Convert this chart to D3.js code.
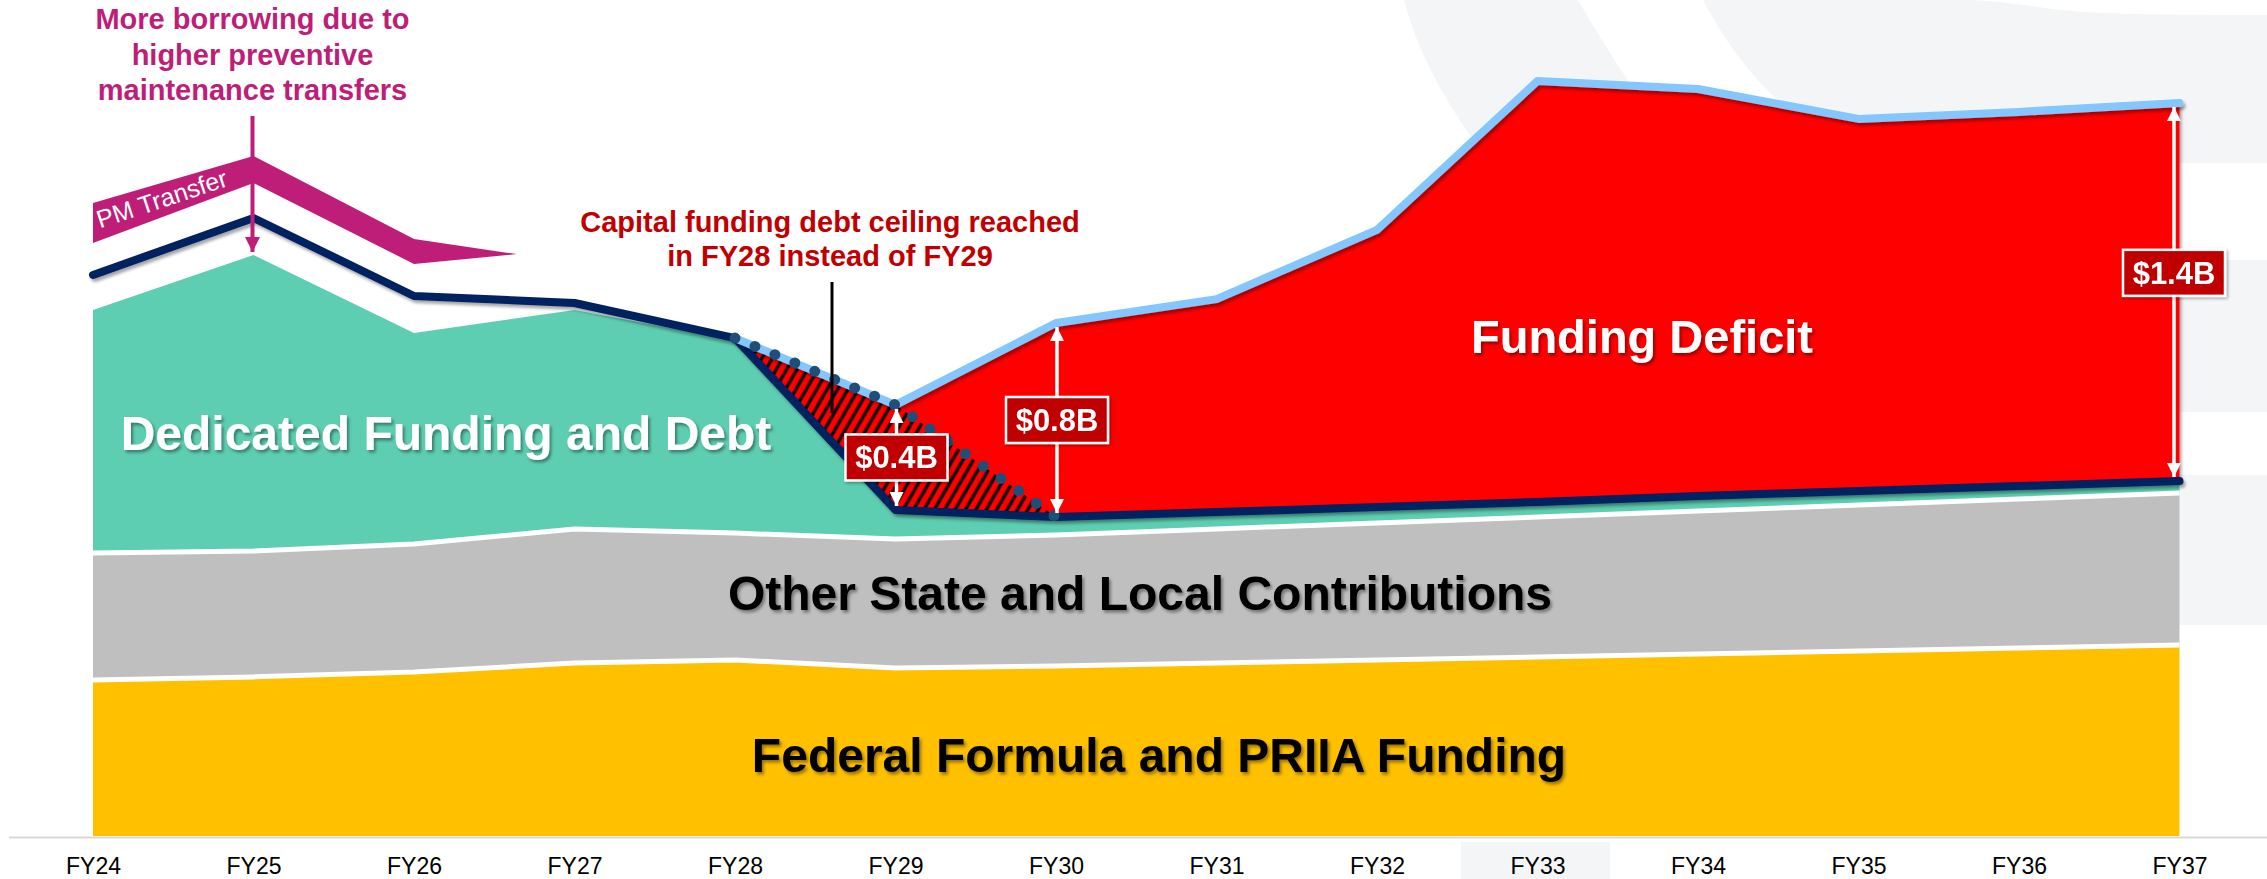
<!DOCTYPE html>
<html>
<head>
<meta charset="utf-8">
<script src="https://cdn.jsdelivr.net/npm/d3@7"></script>
<style>
  html, body { margin: 0; padding: 0; background: #fff; }
  svg { display: block; font-family: "Liberation Sans", Arial, sans-serif; }
</style>
</head>
<body>
<script>
'use strict';

// fiscal years along the bottom
const years = ["FY24", "FY25", "FY26", "FY27", "FY28", "FY29", "FY30",
               "FY31", "FY32", "FY33", "FY34", "FY35", "FY36", "FY37"];

// stacked funding sources, $B
const federal = [0.600, 0.612, 0.631, 0.665, 0.677, 0.646, 0.654,
                 0.665, 0.677, 0.688, 0.700, 0.712, 0.723, 0.735];
const otherStateLocal = [0.488, 0.484, 0.492, 0.516, 0.488, 0.496, 0.504,
                         0.516, 0.527, 0.539, 0.550, 0.561, 0.573, 0.584];
const dedicated = [0.935, 1.139, 0.812, 0.842, 0.743, 0.100, 0.057,
                   0.054, 0.050, 0.046, 0.046, 0.042, 0.039, 0.035];

// total funding incl. debt (navy line), $B
const totalFunding = [2.158, 2.377, 2.077, 2.050, 1.915, 1.254, 1.227,
                      1.246, 1.265, 1.285, 1.308, 1.327, 1.346, 1.365];

// capital need (light blue line), $B
const needYears = ["FY28", "FY29", "FY30", "FY31", "FY32", "FY33", "FY34", "FY35", "FY36", "FY37"];
const totalNeed = [1.915, 1.658, 1.973, 2.065, 2.331, 2.904, 2.873, 2.758, 2.785, 2.819];

// previous plan, debt ceiling reached in FY29 (dotted line)
const priorYears = ["FY28", "FY29", "FY30"];
const priorPlan = [1.915, 1.658, 1.227];

// PM transfer band, positions given as year index
const pmIndex = [0, 1, 2, 2.64];
const pmTop = [2.435, 2.615, 2.296, 2.238];
const pmBase = [2.281, 2.512, 2.200, 2.238];

// deficit call-outs
const calloutYears = ["FY29", "FY30", "FY37"];
const calloutText = ["$0.4B", "$0.8B", "$1.4B"];

const colors = {
  federal: "#FFC000",
  other: "#BFBFBF",
  dedicated: "#5DCEB1",
  deficit: "#FF0000",
  navy: "#002060",
  need: "#84C7FE",
  dots: "#1F4E79",
  pm: "#BE1E77",
  darkRed: "#C00000",
  bg: "#F4F5F7"
};

const W = 2267, H = 879;

window.onload = function() {
  let svg = d3.select("body").append("svg")
    .attr("width", W)
    .attr("height", H);

  let defs = svg.append("defs");
  makeDefs(defs);

  // light background shapes of the slide
  drawBackground(svg);

  // scales
  let x = d3.scalePoint().domain(years).range([93, 2179.5]);
  let xi = d3.scaleLinear().domain([0, years.length - 1]).range([93, 2179.5]);
  let y = d3.scaleLinear().domain([0, 3]).range([836, 56]);

  // axis line + year labels
  svg.append("line")
    .attr("x1", 9).attr("x2", W)
    .attr("y1", 837.5).attr("y2", 837.5)
    .attr("stroke", "#D9D9D9")
    .attr("stroke-width", 2);

  let xAxis = d3.axisBottom(x).tickSize(0).tickPadding(0);
  let gx = svg.append("g")
    .attr("transform", "translate(0, 857)")
    .call(xAxis);
  gx.select(".domain").remove();
  gx.selectAll("text")
    .attr("dy", 0)
    .attr("y", 17)
    .style("font-size", "23px")
    .style("font-family", "'Liberation Sans', Arial, sans-serif")
    .attr("fill", "#000");

  // stacked areas
  let rows = years.map((yr, i) => ({
    year: yr,
    federal: federal[i],
    other: otherStateLocal[i],
    dedicated: dedicated[i]
  }));
  let series = d3.stack().keys(["federal", "other", "dedicated"])(rows);

  let area = d3.area()
    .x((d) => x(d.data.year))
    .y0((d) => y(d[0]))
    .y1((d) => y(d[1]));

  svg.selectAll(".band")
    .data(series)
    .enter()
    .append("path")
      .attr("class", "band")
      .attr("d", area)
      .attr("fill", (s) => colors[s.key]);

  // white separators on top of federal and other bands
  let topLine = d3.line()
    .x((d) => x(d.data.year))
    .y((d) => y(d[1]));
  svg.selectAll(".sep")
    .data(series.slice(0, 2))
    .enter()
    .append("path")
      .attr("class", "sep")
      .attr("d", topLine)
      .attr("fill", "none")
      .attr("stroke", "#fff")
      .attr("stroke-width", 5);

  // funding deficit area
  let needRows = needYears.map((yr, i) => ({
    year: yr,
    top: totalNeed[i],
    base: totalFunding[years.indexOf(yr)]
  }));
  let gapArea = d3.area()
    .x((d) => x(d.year))
    .y0((d) => y(d.base))
    .y1((d) => y(d.top));

  svg.append("path")
    .datum(needRows)
    .attr("d", gapArea)
    .attr("fill", colors.deficit)
    .attr("filter", "url(#shadow)");

  // hatched area, earlier debt ceiling
  let priorRows = priorYears.map((yr, i) => ({
    year: yr,
    top: priorPlan[i],
    base: totalFunding[years.indexOf(yr)]
  }));
  svg.append("path")
    .datum(priorRows)
    .attr("d", gapArea)
    .attr("fill", "url(#hatch)");

  // navy line of total funding
  let fundLine = d3.line()
    .x((d, i) => x(years[i]))
    .y((d) => y(d));
  svg.append("path")
    .datum(totalFunding)
    .attr("d", fundLine)
    .attr("fill", "none")
    .attr("stroke", colors.navy)
    .attr("stroke-width", 8)
    .attr("stroke-linecap", "round")
    .attr("stroke-linejoin", "round")
    .attr("filter", "url(#shadow)");

  // light blue line of need
  let needLine = d3.line()
    .x((d) => x(d.year))
    .y((d) => y(d.top));
  svg.append("path")
    .datum(needRows)
    .attr("d", needLine)
    .attr("fill", "none")
    .attr("stroke", colors.need)
    .attr("stroke-width", 8)
    .attr("stroke-linecap", "round")
    .attr("stroke-linejoin", "round")
    .attr("filter", "url(#shadow)");

  // dotted line of prior plan
  svg.append("path")
    .datum(priorRows)
    .attr("d", needLine)
    .attr("fill", "none")
    .attr("stroke", colors.dots)
    .attr("stroke-width", 11)
    .attr("stroke-linecap", "round")
    .attr("stroke-dasharray", "0 21.6");

  // PM transfer band
  let pmArea = d3.area()
    .x((d, i) => xi(pmIndex[i]))
    .y0((d, i) => y(pmBase[i]))
    .y1((d, i) => y(pmTop[i]));
  svg.append("path")
    .datum(pmIndex)
    .attr("d", pmArea)
    .attr("fill", colors.pm);

  let mid0 = y((pmTop[0] + pmBase[0]) / 2);
  let mid1 = y((pmTop[1] + pmBase[1]) / 2);
  let pmAngle = Math.atan2(mid1 - mid0, xi(1) - xi(0)) * 180 / Math.PI;
  let pmX = xi(0) + 7;
  let pmY = mid0 + (mid1 - mid0) * (7 / (xi(1) - xi(0))) + 8;
  svg.append("text")
    .attr("transform", "translate(" + pmX + "," + pmY + ")rotate(" + pmAngle + ")")
    .attr("fill", "#fff")
    .style("font-size", "25px")
    .text("PM Transfer");

  // deficit call-outs with double arrows
  calloutYears.forEach(function(yr, i) {
    let k = years.indexOf(yr);
    let last = (i == calloutYears.length - 1);
    let ax = x(yr) + (last ? -5.5 : 1);
    let yTop = y(totalNeed[needYears.indexOf(yr)]) + 4;
    let yBot = y(totalFunding[k]) - 4;

    svg.append("line")
      .attr("x1", ax).attr("x2", ax)
      .attr("y1", yTop).attr("y2", yBot)
      .attr("stroke", "#fff")
      .attr("stroke-width", 3.5)
      .attr("marker-start", "url(#whiteHead)")
      .attr("marker-end", "url(#whiteHead)");

    let frac = last ? 0.448 : 0.5;
    let cy = yTop + (yBot - yTop) * frac;
    let g = svg.append("g")
      .attr("transform", "translate(" + ax + "," + cy + ")")
      .attr("filter", "url(#boxShadow)");
    g.append("rect")
      .attr("x", -51).attr("y", -23)
      .attr("width", 102).attr("height", 46)
      .attr("fill", colors.darkRed)
      .attr("stroke", "#fff")
      .attr("stroke-width", 2.5);
    g.append("text")
      .attr("text-anchor", "middle")
      .attr("y", 11)
      .attr("fill", "#fff")
      .style("font-size", "31px")
      .style("font-weight", "bold")
      .text(calloutText[i]);
  });

  makeLabels(svg, x, y);
};

// patterns, markers and shadows
function makeDefs(defs) {
  let hatch = defs.append("pattern")
    .attr("id", "hatch")
    .attr("width", 9).attr("height", 9)
    .attr("patternUnits", "userSpaceOnUse")
    .attr("patternTransform", "rotate(30)");
  hatch.append("rect")
    .attr("width", 9).attr("height", 9)
    .attr("fill", colors.deficit);
  hatch.append("line")
    .attr("x1", 2).attr("x2", 2)
    .attr("y1", 0).attr("y2", 9)
    .attr("stroke", "#000")
    .attr("stroke-width", 3.2);

  let shadow = defs.append("filter")
    .attr("id", "shadow")
    .attr("filterUnits", "userSpaceOnUse")
    .attr("x", 0).attr("y", 0).attr("width", W).attr("height", H);
  shadow.append("feDropShadow")
    .attr("dx", 2).attr("dy", 3)
    .attr("stdDeviation", 1.5)
    .attr("flood-color", "#000")
    .attr("flood-opacity", 0.35);

  let textShadow = defs.append("filter")
    .attr("id", "textShadow")
    .attr("x", "-5%").attr("y", "-20%").attr("width", "110%").attr("height", "150%");
  textShadow.append("feDropShadow")
    .attr("dx", 2).attr("dy", 2.5)
    .attr("stdDeviation", 1.8)
    .attr("flood-color", "#000")
    .attr("flood-opacity", 0.4);

  let boxShadow = defs.append("filter")
    .attr("id", "boxShadow")
    .attr("x", "-20%").attr("y", "-30%").attr("width", "140%").attr("height", "160%");
  boxShadow.append("feDropShadow")
    .attr("dx", 1.5).attr("dy", 1.5)
    .attr("stdDeviation", 1.5)
    .attr("flood-color", "#000")
    .attr("flood-opacity", 0.35);

  defs.append("marker")
    .attr("id", "whiteHead")
    .attr("viewBox", "0 0 10 10")
    .attr("refX", 10).attr("refY", 5)
    .attr("markerWidth", 17).attr("markerHeight", 14)
    .attr("markerUnits", "userSpaceOnUse")
    .attr("orient", "auto-start-reverse")
    .append("path")
      .attr("d", "M0,0L10,5L0,10Z")
      .attr("fill", "#fff");

  defs.append("marker")
    .attr("id", "pmHead")
    .attr("viewBox", "0 0 10 10")
    .attr("refX", 10).attr("refY", 5)
    .attr("markerWidth", 16).attr("markerHeight", 15)
    .attr("markerUnits", "userSpaceOnUse")
    .attr("orient", "auto")
    .append("path")
      .attr("d", "M0,0L10,5L0,10Z")
      .attr("fill", colors.pm);
}

// faint slide decoration behind the chart
function drawBackground(svg) {
  let bg = svg.append("g").attr("fill", colors.bg);
  bg.append("path")
    .attr("d", "M1404,0 C1420,60 1450,110 1495,170 L1560,240 L1740,240 C1690,170 1630,90 1578,0 Z");
  bg.append("path")
    .attr("d", "M1703,0 C1740,70 1790,125 1870,163 L2267,163 L2267,15 C2150,15 2085,14 2045,8 C2005,2 1980,0 1962,0 Z");
  bg.append("rect").attr("x", 2000).attr("y", 260).attr("width", 267).attr("height", 152);
  bg.append("rect").attr("x", 2000).attr("y", 475).attr("width", 267).attr("height", 150);
  bg.append("rect").attr("x", 1461).attr("y", 842).attr("width", 149).attr("height", 37);
}

// band names and annotations
function makeLabels(svg, x, y) {
  let bandLabels = [
    { text: "Dedicated Funding and Debt", cx: 446, by: 450, fill: "#fff", size: 48 },
    { text: "Funding Deficit", cx: 1642, by: 353, fill: "#fff", size: 47 },
    { text: "Other State and Local Contributions", cx: 1140, by: 610, fill: "#000", size: 48 },
    { text: "Federal Formula and PRIIA Funding", cx: 1159, by: 772, fill: "#000", size: 48 }
  ];
  bandLabels.forEach(function(l) {
    svg.append("text")
      .attr("x", l.cx)
      .attr("y", l.by)
      .attr("text-anchor", "middle")
      .attr("fill", l.fill)
      .attr("filter", "url(#textShadow)")
      .style("font-size", l.size + "px")
      .style("font-weight", "bold")
      .text(l.text);
  });

  // magenta note with arrow down to FY25
  let pmNote = ["More borrowing due to", "higher preventive", "maintenance transfers"];
  let noteX = x("FY25") - 1;
  pmNote.forEach(function(t, i) {
    svg.append("text")
      .attr("x", noteX)
      .attr("y", 29 + i * 35.5)
      .attr("text-anchor", "middle")
      .attr("fill", colors.pm)
      .style("font-size", "29px")
      .style("font-weight", "bold")
      .text(t);
  });
  let fy25Top = y(federal[1] + otherStateLocal[1] + dedicated[1]);
  svg.append("line")
    .attr("x1", noteX).attr("x2", noteX)
    .attr("y1", 116).attr("y2", fy25Top - 3)
    .attr("stroke", colors.pm)
    .attr("stroke-width", 4)
    .attr("marker-end", "url(#pmHead)");

  // dark red note with pointer line
  let capNote = ["Capital funding debt ceiling reached", "in FY28 instead of FY29"];
  capNote.forEach(function(t, i) {
    svg.append("text")
      .attr("x", 830)
      .attr("y", 232 + i * 34)
      .attr("text-anchor", "middle")
      .attr("fill", colors.darkRed)
      .style("font-size", "29px")
      .style("font-weight", "bold")
      .text(t);
  });
  svg.append("line")
    .attr("x1", 832).attr("x2", 832)
    .attr("y1", 282).attr("y2", 413)
    .attr("stroke", "#000")
    .attr("stroke-width", 3);
}
</script>
</body>
</html>
